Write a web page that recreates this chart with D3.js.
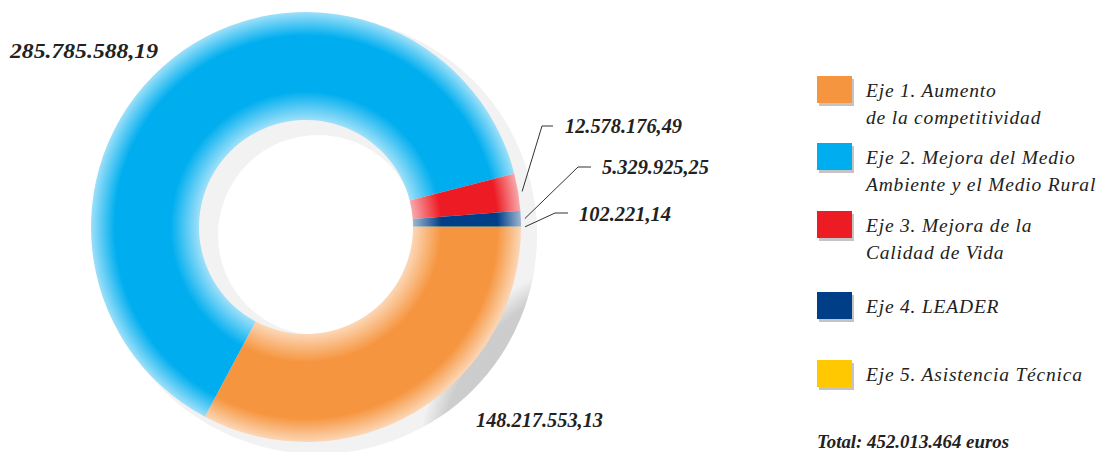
<!DOCTYPE html>
<html>
<head>
<meta charset="utf-8">
<script src="https://cdn.jsdelivr.net/npm/d3@7"></script>
<style>
  body { margin: 0; background: #fff; }
  svg { display: block; }
</style>
</head>
<body>
<div id="chart"></div>
<script>
// data
var categories = ["Eje 1", "Eje 2", "Eje 3", "Eje 4", "Eje 5"];
var values = [148217553.13, 285785588.19, 12578176.49, 5329925.25, 102221.14];
var colors = ["#f6953f", "#00aeef", "#ed1c24", "#003f87", "#ffc800"];
var legendLines = [
  ["Eje 1. Aumento", "de la competitividad"],
  ["Eje 2. Mejora del Medio", "Ambiente y el Medio Rural"],
  ["Eje 3. Mejora de la", "Calidad de Vida"],
  ["Eje 4. LEADER"],
  ["Eje 5. Asistencia Técnica"]
];

// layout
var width = 1109, height = 452;
var cx = 306, cy = 227, outerR = 215, innerR = 107;
var labelPos = [[476, 427, 127], [10, 58, 148], [565, 133, 117], [602, 174, 107], [579, 221, 92]];
var elbows = [null, null, [553, 542, 126], [591, 578, 167], [568, 555, 213]];
var legendY = [76, 143, 211, 292, 360];
var serif = "'Liberation Serif', 'Times New Roman', serif";

var esLocale = d3.formatLocale({decimal: ",", thousands: ".", grouping: [3], currency: ["", " €"]});
var fmt = esLocale.format(",.2f");
var fmtTotal = esLocale.format(",.0f");

var svg = d3.select("#chart").append("svg")
    .attr("width", width)
    .attr("height", height);

var defs = svg.append("defs");

// shadow ring
var sh = defs.append("radialGradient")
    .attr("id", "shadowGrad")
    .attr("gradientUnits", "userSpaceOnUse")
    .attr("cx", 318).attr("cy", 235).attr("r", 219);
sh.append("stop").attr("offset", 0.456).attr("stop-color", "#e6e6e6");
sh.append("stop").attr("offset", 0.54).attr("stop-color", "#c9c9c9");
sh.append("stop").attr("offset", 0.9).attr("stop-color", "#cdcdcd");
sh.append("stop").attr("offset", 1).attr("stop-color", "#f2f2f2");

svg.append("path")
    .attr("transform", "translate(318,235)")
    .attr("d", d3.arc().innerRadius(100).outerRadius(219).startAngle(0).endAngle(2 * Math.PI)())
    .attr("fill", "url(#shadowGrad)");

// slice gradients
colors.forEach(function(c, i) {
  var light = d3.interpolateRgb(c, "#fff")(0.62);
  var g = defs.append("radialGradient")
      .attr("id", "grad" + i)
      .attr("gradientUnits", "userSpaceOnUse")
      .attr("cx", 0).attr("cy", 0).attr("r", outerR);
  g.append("stop").attr("offset", innerR / outerR).attr("stop-color", light);
  g.append("stop").attr("offset", 0.63).attr("stop-color", c);
  g.append("stop").attr("offset", 0.89).attr("stop-color", c);
  g.append("stop").attr("offset", 1).attr("stop-color", light);
});

var pie = d3.pie().sort(null)
    .startAngle(Math.PI / 2)
    .endAngle(Math.PI / 2 + 2 * Math.PI);
var arcs = pie(values);

var arc = d3.arc().innerRadius(innerR).outerRadius(outerR);

var ring = svg.append("g").attr("transform", "translate(" + cx + "," + cy + ")");
ring.selectAll("path")
    .data(arcs)
    .enter()
    .append("path")
    .attr("d", arc)
    .attr("fill", function(d, i) { return "url(#grad" + i + ")"; });

// leader lines
var lineR = 219;
arcs.forEach(function(d, i) {
  if (!elbows[i]) return;
  var a = (d.startAngle + d.endAngle) / 2;
  var ex = cx + lineR * Math.sin(a);
  var ey = cy - lineR * Math.cos(a);
  var e = elbows[i];
  svg.append("polyline")
      .attr("points", [[e[0], e[2]], [e[1], e[2]], [ex, ey]].map(function(p) { return p.join(","); }).join(" "))
      .attr("fill", "none")
      .attr("stroke", "#333")
      .attr("stroke-width", 1);
});

// value labels
svg.selectAll("text.val")
    .data(values)
    .enter()
    .append("text")
    .attr("class", "val")
    .attr("x", function(d, i) { return labelPos[i][0]; })
    .attr("y", function(d, i) { return labelPos[i][1]; })
    .attr("textLength", function(d, i) { return labelPos[i][2]; })
    .attr("lengthAdjust", "spacingAndGlyphs")
    .style("font-family", serif)
    .style("font-style", "italic")
    .style("font-weight", "bold")
    .style("font-size", "20px")
    .style("fill", "#222")
    .text(function(d) { return fmt(d); });

// legend
var legend = svg.selectAll("g.leg")
    .data(categories)
    .enter()
    .append("g")
    .attr("class", "leg")
    .attr("transform", function(d, i) { return "translate(817," + legendY[i] + ")"; });

legend.append("rect")
    .attr("x", 2).attr("y", 3)
    .attr("width", 35).attr("height", 27)
    .attr("fill", "#c4c4c4");
legend.append("rect")
    .attr("width", 35).attr("height", 27)
    .attr("fill", function(d, i) { return colors[i]; });

legend.each(function(d, i) {
  var t = d3.select(this).append("text")
      .attr("x", 49)
      .attr("y", 21)
      .style("font-family", serif)
      .style("font-style", "italic")
      .style("font-size", "19.5px")
      .style("letter-spacing", "0.8px")
      .style("fill", "#222");
  legendLines[i].forEach(function(line, j) {
    t.append("tspan").attr("x", 49).attr("dy", j === 0 ? 0 : 27).text(line);
  });
});

svg.append("text")
    .attr("x", 817)
    .attr("y", 448)
    .attr("textLength", 192)
    .attr("lengthAdjust", "spacingAndGlyphs")
    .style("font-family", serif)
    .style("font-style", "italic")
    .style("font-weight", "bold")
    .style("font-size", "18px")
    .style("fill", "#222")
    .text("Total: " + fmtTotal(d3.sum(values)) + " euros");
</script>
</body>
</html>
